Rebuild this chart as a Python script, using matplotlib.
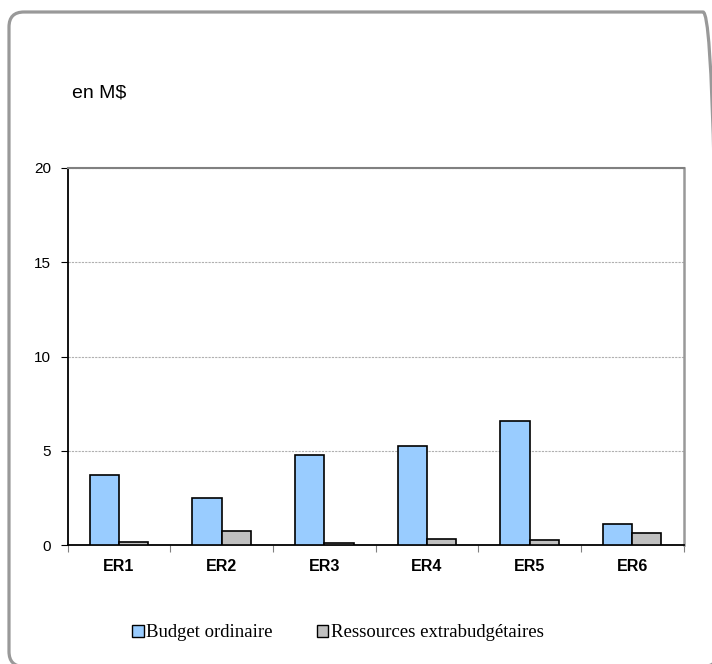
import numpy as np
import matplotlib.pyplot as plt
from matplotlib.patches import FancyBboxPatch, Rectangle
from matplotlib.transforms import IdentityTransform

categories = ["ER1", "ER2", "ER3", "ER4", "ER5", "ER6"]
budget_ordinaire = [3.7, 2.5, 4.8, 5.25, 6.6, 1.1]
extrabudgetaires = [0.15, 0.74, 0.1, 0.33, 0.27, 0.62]

fig = plt.figure(figsize=(7.12, 6.64), dpi=100)

# rounded outer frame (in pixels, right and bottom edges just off the canvas)
frame = FancyBboxPatch((9, -2.5), 709, 654.5, boxstyle="round,pad=0,rounding_size=15",
                       transform=IdentityTransform(), facecolor="none", edgecolor="#999999",
                       lw=2.3, zorder=5)
fig.patches.append(frame)

ax = fig.add_axes([0.095, 0.179, 0.865, 0.568])
x = np.arange(len(categories))
w = 0.285
ax.bar(x - w / 2, budget_ordinaire, w, color="#99ccff", edgecolor="black", lw=1.2, zorder=3)
ax.bar(x + w / 2, extrabudgetaires, w, color="#c0c0c0", edgecolor="black", lw=1.2, zorder=3)

ax.set_xlim(-0.5, len(categories) - 0.5)
ax.set_ylim(0, 20)
ax.set_yticks([0, 5, 10, 15, 20])
ax.yaxis.grid(True, color="#b0b0b0", lw=0.8, ls=(0, (2, 1)), zorder=0)
ax.set_xticks(np.arange(-0.5, len(categories), 1))
ax.set_xticklabels([])
ax.set_xticks(x, minor=True)
ax.set_xticklabels(categories, minor=True, fontweight="bold", fontsize=11.5, family="Liberation Sans")
ax.tick_params(axis="x", which="minor", length=0, pad=10)
ax.tick_params(axis="x", which="major", length=5, color="#808080")
ax.tick_params(axis="y", length=5, labelsize=11, pad=7)
for lab in ax.get_yticklabels():
    lab.set_family("Liberation Sans")
ax.spines["top"].set_color("#808080")
ax.spines["top"].set_linewidth(1.5)
ax.spines["right"].set_color("#999999")
ax.spines["right"].set_linewidth(1.8)
ax.spines["left"].set_linewidth(1.3)
ax.spines["bottom"].set_linewidth(1.3)

fig.text(0.101, 0.86, "en M$", fontsize=14, family="Liberation Sans", va="center")

# legend
h1 = Rectangle((0, 0), 1, 1, facecolor="#99ccff", edgecolor="black", lw=1)
h2 = Rectangle((0, 0), 1, 1, facecolor="#c0c0c0", edgecolor="black", lw=1)
fig.legend([h1, h2], ["Budget ordinaire", "Ressources extrabudgétaires"], loc="center",
           bbox_to_anchor=(0.4745, 0.047), ncol=2, frameon=False, handlelength=0.6, handleheight=0.6,
           handletextpad=0.15, columnspacing=2.33, prop={"family": "Liberation Serif", "size": 13.5})

fig.savefig("out.png", dpi=100)
